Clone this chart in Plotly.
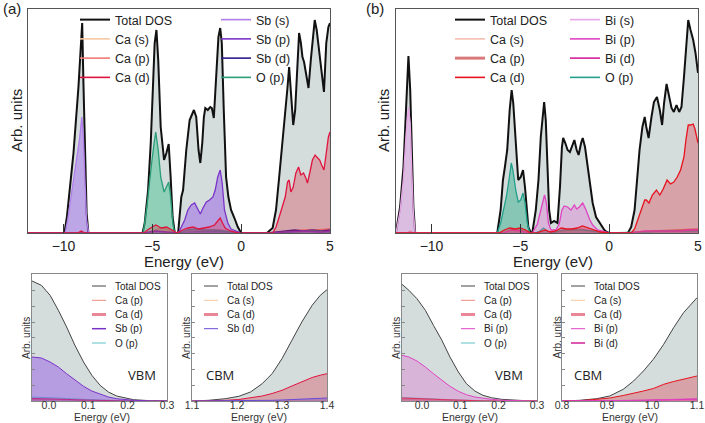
import plotly.graph_objects as go

# ---------------- Panel (a): Ca-Sb-O full DOS ----------------
E_a_tot = [-12, -9.95, -9.81, -9.44, -9.16, -8.95, -8.88, -8.80, -8.70, -8.60,
           -5.55, -5.43, -5.24, -5.09, -4.96, -4.87, -4.77, -4.67, -4.53, -4.34,
           -4.21, -4.08, -3.97, -3.86, -3.74, -3.55, -3.37, -3.27, -3.09, -2.90,
           -2.66, -2.53, -2.40, -2.30, -2.19, -2.10, -2.02, -1.88, -1.74, -1.65,
           -1.54, -1.41, -1.28, -1.18, -1.09, -0.98, -0.85, -0.72, -0.57, -0.38,
           -0.19, 0.0, 1.45, 1.77, 1.96, 2.14, 2.33, 2.48, 2.61, 2.70, 2.80,
           2.93, 3.04, 3.17, 3.26, 3.36, 3.45, 3.54, 3.67, 3.79, 3.92, 4.07,
           4.14, 4.25, 4.38, 4.53, 4.66, 4.79, 4.91, 5.0]
D_a_tot = [0, 0, 16, 80, 146, 210, 150, 80, 20, 0,
           0, 10, 43, 90, 140, 190, 203, 173, 106, 73,
           80, 89, 56, 16, 0, 0, 36, 43, 83, 113,
           123, 116, 83, 70, 90, 116, 125, 123, 126, 125,
           115, 156, 196, 205, 190, 123, 56, 36, 23, 15,
           6, 0, 0, 5, 23, 56, 90, 123, 146, 166, 140,
           108, 123, 173, 200, 190, 176, 171, 156, 145, 173, 206,
           213, 203, 183, 163, 141, 190, 206, 210]

E_a_sbs = [-12, -9.91, -9.76, -9.38, -9.10, -8.97, -8.88, -8.80, -8.70, -8.58, 5]
D_a_sbs = [0, 0, 14, 58, 94, 116, 95, 55, 13, 0, 0]

E_a_sbp = [-12, -5.5, -4.8, -4.0, -3.55, -3.37, -3.18, -3.0, -2.81, -2.62, -2.43,
           -2.30, -2.15, -1.96, -1.78, -1.59, -1.46, -1.32, -1.18, -1.07, -0.94,
           -0.75, -0.57, -0.19, 0.0, 1.6, 2.5, 3.5, 4.5, 5.0]
D_a_sbp = [0, 0, 2, 1, 0, 6, 13, 23, 28, 30, 23,
           19, 25, 31, 33, 36, 43, 56, 63, 50, 23,
           10, 4, 1, 0, 0, 1, 2, 1, 2]

E_a_sbd = [-12, -3.5, -2.5, -1.2, 0.0, 1.5, 2.0, 2.5, 3.0, 3.5, 4.0, 4.5, 5.0]
D_a_sbd = [0, 0, 1, 1, 0, 0, 1, 2, 3, 2, 3, 2, 3]

E_a_op = [-12, -5.52, -5.33, -5.15, -5.02, -4.90, -4.81, -4.67, -4.53, -4.34,
          -4.21, -4.08, -3.97, -3.84, -3.74, -3.5, -3.0, -2.6, -2.0, -1.5,
          -1.0, -0.5, 0.0, 2.0, 3.0, 4.0, 5.0]
D_a_op = [0, 0, 23, 56, 73, 90, 101, 83, 56, 41,
          46, 51, 36, 9, 0, 0, 3, 4, 3, 3,
          2, 1, 0, 0, 1, 2, 1]

E_a_cas = [-12, -5.3, -4.6, -4.0, -3.6, 1.8, 3.0, 4.0, 5.0]
D_a_cas = [0, 0, 2, 2, 0, 0, 1, 1, 1]

E_a_cap = [-12, -9.1, -9.0, -8.9, -5.4, -4.9, -4.5, -4.2, -3.8, -3.5, -2.5, -1.2, -0.3,
           1.8, 2.7, 3.5, 4.2, 5.0]
D_a_cap = [0, 0, 1, 0, 0, 3, 5, 4, 0, 0, 2, 3, 0,
           0, 2, 3, 3, 4]

E_a_cad = [-12, -9.2, -9.0, -8.8, -5.5, -5.2, -4.8, -4.5, -4.2, -3.9, -3.6, -3.3,
           -3.0, -2.7, -2.4, -2.1, -1.8, -1.5, -1.3, -1.18, -1.05, -0.9, -0.6, -0.2,
           1.77, 1.96, 2.14, 2.33, 2.48, 2.61, 2.70, 2.80, 2.93, 3.08, 3.23, 3.36,
           3.51, 3.64, 3.73, 3.86, 4.01, 4.16, 4.29, 4.42, 4.53, 4.66, 4.79, 4.91, 5.0]
D_a_cad = [0, 0, 2, 0, 0, 4, 8, 5, 6, 3, 0, 3,
           5, 6, 4, 5, 6, 8, 12, 15, 10, 5, 2, 0,
           0, 6, 16, 26, 36, 51, 53, 41, 46, 60, 66, 58,
           60, 55, 50, 60, 73, 78, 75, 73, 68, 63, 80, 96, 101]

# ---------------- Panel (b): Ca-Bi-O full DOS ----------------
E_b_tot = [-12.0, -11.98, -11.77, -11.58, -11.43, -11.30, -11.20, -11.11, -11.02, -10.92,
           -6.30, -6.11, -5.98, -5.87, -5.74, -5.60, -5.49, -5.40, -5.26, -5.12,
           -4.98, -4.85, -4.74, -4.64, -4.55, -4.41, -4.33, -4.13, -3.98, -3.85,
           -3.72, -3.66, -3.57, -3.47, -3.38, -3.28, -3.10, -2.91, -2.77, -2.66,
           -2.59, -2.47, -2.34, -2.21, -2.09, -1.96, -1.83, -1.72, -1.58, -1.49,
           -1.36, -1.21, -1.08, -0.93, -0.74, -0.45, -0.27, -0.14, 0.0,
           1.05, 1.24, 1.43, 1.56, 1.71, 1.87, 2.0, 2.09, 2.22, 2.38, 2.52, 2.69,
           2.85, 2.98, 3.09, 3.23, 3.38, 3.51, 3.64, 3.79, 3.94, 4.07, 4.21, 4.32,
           4.45, 4.58, 4.73, 4.86, 4.96, 5.0]
D_b_tot = [0, 3, 26, 66, 126, 177, 143, 76, 26, 0,
           0, 23, 53, 66, 83, 123, 143, 130, 86, 53,
           56, 63, 46, 23, 6, 0, 0, 23, 53, 96,
           126, 131, 113, 63, 23, 10, 12, 10, 46, 86,
           95, 90, 83, 81, 86, 93, 83, 78, 90, 95,
           86, 66, 50, 30, 16, 8, 3, 1, 0,
           0, 6, 23, 50, 83, 106, 116, 106, 95, 116, 131, 136,
           123, 108, 130, 149, 135, 125, 121, 128, 121, 126, 156, 183,
           213, 203, 193, 180, 164, 160]

E_b_bis = [-12.0, -11.98, -11.77, -11.58, -11.43, -11.30, -11.20, -11.11, -11.02, -10.92, 5]
D_b_bis = [0, 2, 22, 55, 100, 126, 110, 62, 20, 0, 0]

E_b_bip = [-12, -6.0, -5.5, -5.0, -4.5, -4.33, -4.04, -3.85, -3.72, -3.64, -3.53,
           -3.42, -3.28, -3.0, -2.81, -2.66, -2.53, -2.34, -2.15, -1.96, -1.83,
           -1.68, -1.49, -1.30, -1.11, -0.93, -0.64, -0.17, 0.0, 1.2, 2.0, 3.0, 4.0, 4.5, 5.0]
D_b_bip = [0, 0, 3, 2, 0, 0, 9, 23, 34, 38, 30,
           10, 3, 3, 9, 23, 27, 26, 23, 28, 24,
           26, 30, 23, 14, 8, 3, 1, 0, 0, 2, 2, 2, 3, 3]

E_b_bid = [-12, 1.2, 2.0, 3.0, 4.0, 4.5, 5.0]
D_b_bid = [0, 0, 1, 2, 2, 3, 3]

E_b_op = [-12, -6.30, -6.11, -5.93, -5.79, -5.64, -5.51, -5.42, -5.26, -5.12,
          -4.98, -4.85, -4.74, -4.61, -4.47, -4.2, -3.9, -3.7, -3.5, -3.2,
          -2.6, -2.0, -1.5, -1.0, -0.5, 0.0, 2.0, 3.0, 4.0, 5.0]
D_b_op = [0, 0, 10, 23, 36, 53, 70, 63, 43, 31,
          33, 40, 30, 10, 0, 0, 2, 5, 2, 0,
          3, 3, 3, 2, 1, 0, 1, 2, 2, 2]

E_b_cas = [-12, -5.8, -5.0, -4.5, -2.5, -1.5, -0.5, 1.5, 3.0, 4.5, 5.0]
D_b_cas = [0, 0, 2, 0, 1, 2, 0, 0, 1, 2, 2]

E_b_cap = [-12, -11.4, -11.2, -11.0, -6.0, -5.5, -5.0, -4.4, -3.0, -2.0, -1.5, -0.5,
           1.5, 2.5, 3.5, 4.5, 5.0]
D_b_cap = [0, 0, 2, 0, 0, 3, 3, 0, 1, 3, 4, 0,
           0, 2, 3, 4, 4]

E_b_cad = [-12, -6.2, -5.9, -5.6, -5.3, -5.0, -4.7, -4.4, -4.1, -3.8, -3.6, -3.3,
           -3.0, -2.7, -2.4, -2.1, -1.8, -1.5, -1.2, -0.9, -0.5, 0.0,
           1.24, 1.43, 1.62, 1.81, 2.0, 2.09, 2.24, 2.43, 2.66, 2.85, 3.04, 3.26,
           3.45, 3.64, 3.83, 4.02, 4.21, 4.32, 4.45, 4.58, 4.73, 4.83, 4.96, 5.0]
D_b_cad = [0, 0, 3, 5, 4, 5, 3, 0, 0, 2, 3, 1,
           2, 5, 4, 4, 5, 7, 5, 3, 1, 0,
           0, 4, 13, 24, 33, 33, 30, 38, 43, 38, 44, 53,
           49, 51, 56, 63, 76, 93, 108, 108, 109, 104, 91, 90]

# ---------------- Band-edge zooms ----------------
E_vbm_a = [-0.043, -0.019, 0.003, 0.024, 0.045, 0.066, 0.088, 0.109, 0.130, 0.151,
           0.172, 0.194, 0.215, 0.257, 0.300]
V_a_tot = [120, 115.7, 105.7, 90.7, 74, 55.7, 39, 25.7, 15.7, 9, 5, 3, 1.3, 0.3, 0]
V_a_sbp = [44, 43, 39, 34, 27.3, 20.7, 14.7, 10, 6.7, 4, 2.3, 1.3, 0.7, 0.1, 0]
V_a_op = [4, 3.8, 3.4, 3, 2.5, 2, 1.5, 1, 0.7, 0.4, 0.2, 0.1, 0, 0, 0]
V_a_cad = [2.5, 2.4, 2.2, 1.9, 1.6, 1.2, 0.9, 0.6, 0.4, 0.2, 0.1, 0, 0, 0, 0]
V_a_cap = [1.5, 1.4, 1.3, 1.1, 0.9, 0.7, 0.5, 0.3, 0.2, 0.1, 0, 0, 0, 0, 0]

E_cbm_a = [1.1, 1.137, 1.174, 1.204, 1.23, 1.256, 1.278, 1.3, 1.322, 1.344, 1.367, 1.385, 1.4]
C_a_tot = [0, 0.7, 2.3, 4.7, 9, 17.3, 27.3, 42.3, 60.7, 79, 95.7, 105.7, 111.3]
C_a_cad = [0, 0.2, 0.7, 1.5, 3, 5, 7.5, 10.7, 15, 19.5, 23.5, 25.8, 27.3]
C_a_sbd = [0, 0, 0.1, 0.2, 0.3, 0.5, 0.7, 1, 1.4, 1.8, 2.2, 2.6, 3]
C_a_cas = [0, 0, 0, 0.1, 0.1, 0.2, 0.3, 0.4, 0.5, 0.6, 0.7, 0.8, 0.9]

E_vbm_b = [-0.052, -0.034, -0.013, 0.009, 0.030, 0.052, 0.073, 0.095, 0.116, 0.138,
           0.159, 0.181, 0.207, 0.241, 0.284, 0.300]
V_b_tot = [116.7, 110.7, 102.3, 90.7, 75.7, 60.7, 44, 29, 17.3, 10, 5.7, 3.3, 1.7, 0.7, 0, 0]
V_b_bip = [45.7, 44, 40, 34, 27.3, 20.7, 14.7, 9.7, 6.3, 4, 2.6, 1.7, 0.8, 0.2, 0, 0]
V_b_op = [3.5, 3.3, 3, 2.6, 2.2, 1.7, 1.3, 0.9, 0.6, 0.4, 0.2, 0.1, 0, 0, 0, 0]
V_b_cad = [3, 2.9, 2.6, 2.2, 1.8, 1.4, 1, 0.7, 0.4, 0.2, 0.1, 0, 0, 0, 0, 0]
V_b_cap = [1.5, 1.4, 1.3, 1.1, 0.9, 0.7, 0.5, 0.3, 0.2, 0.1, 0, 0, 0, 0, 0, 0]

E_cbm_b = [0.8, 0.839, 0.877, 0.906, 0.936, 0.959, 0.981, 1.003, 1.026, 1.048, 1.07, 1.1]
C_b_tot = [0, 0.7, 2.3, 5, 11.7, 20, 30, 41.7, 56.7, 73.3, 88.3, 103.3]
C_b_cad = [0, 0.3, 1.7, 3, 5.5, 7.5, 10, 12.5, 16.7, 19.5, 22, 25]
C_b_bip = [0, 0, 0.1, 0.2, 0.4, 0.6, 0.8, 1, 1.3, 1.6, 1.9, 2.2]
C_b_bid = [0, 0, 0.1, 0.2, 0.3, 0.5, 0.7, 0.9, 1.1, 1.3, 1.5, 1.8]
C_b_cas = [0, 0, 0, 0, 0.1, 0.1, 0.2, 0.2, 0.3, 0.3, 0.4, 0.4]

# legend labels for the band-edge panels
LEG_VBM_A = ["Total DOS", "Ca (p)", "Ca (d)", "Sb (p)", "O (p)"]
LEG_CBM_A = ["Total DOS", "Ca (s)", "Ca (d)", "Sb (d)"]
LEG_VBM_B = ["Total DOS", "Ca (p)", "Ca (d)", "Bi (p)", "O (p)"]
LEG_CBM_B = ["Total DOS", "Ca (s)", "Ca (d)", "Bi (p)", "Bi (d)"]

# ---------------- styles ----------------
FONT = "Liberation Sans, Arial, sans-serif"
TOT_LINE = "#111111"
TOT_FILL = "rgba(47,79,79,0.2)"
COL = {
    "Ca (s)": ("#f6c8a2", "rgba(246,200,162,0.35)"),
    "Ca (p)": ("#ef7b72", "rgba(239,123,114,0.3)"),
    "Ca (d)a": ("#e0133f", "rgba(220,40,60,0.30)"),
    "Sb (s)": ("#b07ee8", "rgba(160,100,240,0.45)"),
    "Sb (p)": ("#7a33c8", "rgba(140,70,230,0.42)"),
    "Sb (d)": ("#2c1b8c", "rgba(44,27,140,0.3)"),
    "O (p)a": ("#2a9d78", "rgba(60,190,140,0.45)"),
    "Ca (s)b": ("#f4bcae", "rgba(244,188,174,0.35)"),
    "Ca (p)b": ("#d97a7a", "rgba(217,122,122,0.3)"),
    "Ca (d)b": ("#e8121e", "rgba(220,40,60,0.32)"),
    "Bi (s)": ("#e7a6e6", "rgba(225,150,230,0.45)"),
    "Bi (p)": ("#e044c2", "rgba(220,100,210,0.33)"),
    "Bi (d)": ("#d2209a", "rgba(210,32,154,0.3)"),
    "O (p)b": ("#22a08c", "rgba(40,170,130,0.45)"),
}
SMALL = {
    "Total DOS": ("#444444", 1),
    "Ca (s)": ("#f6c8a2", 1),
    "Ca (p)": ("#ef8a80", 1),
    "Ca (d)": ("rgba(225,95,115,0.75)", 3),
    "Sb (p)": ("#7a33c8", 1.5),
    "Sb (d)": ("#6a4ad8", 1),
    "O (p)": ("#5fc0c8", 1),
    "Bi (p)": ("#e044c2", 1),
    "Bi (d)": ("#d2209a", 1.5),
}

fig = go.Figure()


def curve(x, y, line, fill, xa, ya, width=1.3):
    fig.add_trace(go.Scatter(x=x, y=y, mode="lines", line=dict(color=line, width=width),
                             fill="tozeroy", fillcolor=fill, xaxis=xa, yaxis=ya,
                             showlegend=False, hoverinfo="skip"))


def entry(name, color, legend, xa, ya, width=1.6):
    fig.add_trace(go.Scatter(x=[None], y=[None], mode="lines", name=name,
                             line=dict(color=color, width=width), legend=legend,
                             xaxis=xa, yaxis=ya, showlegend=True, hoverinfo="skip"))


# Panel (a)
curve(E_a_tot, D_a_tot, TOT_LINE, TOT_FILL, "x", "y", 2)
curve(E_a_cas, D_a_cas, *COL["Ca (s)"], "x", "y")
curve(E_a_cap, D_a_cap, *COL["Ca (p)"], "x", "y")
curve(E_a_sbd, D_a_sbd, *COL["Sb (d)"], "x", "y")
curve(E_a_sbs, D_a_sbs, *COL["Sb (s)"], "x", "y")
curve(E_a_op, D_a_op, *COL["O (p)a"], "x", "y")
curve(E_a_sbp, D_a_sbp, *COL["Sb (p)"], "x", "y")
curve(E_a_cad, D_a_cad, *COL["Ca (d)a"], "x", "y")

# Panel (b)
curve(E_b_tot, D_b_tot, TOT_LINE, TOT_FILL, "x2", "y2", 2)
curve(E_b_cas, D_b_cas, *COL["Ca (s)b"], "x2", "y2")
curve(E_b_cap, D_b_cap, *COL["Ca (p)b"], "x2", "y2")
curve(E_b_bid, D_b_bid, *COL["Bi (d)"], "x2", "y2")
curve(E_b_bis, D_b_bis, *COL["Bi (s)"], "x2", "y2")
curve(E_b_op, D_b_op, *COL["O (p)b"], "x2", "y2")
curve(E_b_bip, D_b_bip, *COL["Bi (p)"], "x2", "y2")
curve(E_b_cad, D_b_cad, *COL["Ca (d)b"], "x2", "y2")

# VBM (a)
curve(E_vbm_a, V_a_tot, "#444444", TOT_FILL, "x3", "y3", 1)
curve(E_vbm_a, V_a_cap, *COL["Ca (p)"], "x3", "y3", 1)
curve(E_vbm_a, V_a_op, "#5fc0c8", "rgba(95,192,200,0.3)", "x3", "y3", 1)
curve(E_vbm_a, V_a_cad, *COL["Ca (d)a"], "x3", "y3", 1)
curve(E_vbm_a, V_a_sbp, *COL["Sb (p)"], "x3", "y3", 1)
# CBM (a)
curve(E_cbm_a, C_a_tot, "#444444", TOT_FILL, "x4", "y4", 1)
curve(E_cbm_a, C_a_cas, *COL["Ca (s)"], "x4", "y4", 1)
curve(E_cbm_a, C_a_cad, *COL["Ca (d)a"], "x4", "y4", 1)
curve(E_cbm_a, C_a_sbd, "#6a4ad8", "rgba(106,74,216,0.4)", "x4", "y4", 1)
# VBM (b)
curve(E_vbm_b, V_b_tot, "#444444", TOT_FILL, "x5", "y5", 1)
curve(E_vbm_b, V_b_cap, *COL["Ca (p)b"], "x5", "y5", 1)
curve(E_vbm_b, V_b_op, "#5fc0c8", "rgba(95,192,200,0.3)", "x5", "y5", 1)
curve(E_vbm_b, V_b_cad, *COL["Ca (d)b"], "x5", "y5", 1)
curve(E_vbm_b, V_b_bip, *COL["Bi (p)"], "x5", "y5", 1)
# CBM (b)
curve(E_cbm_b, C_b_tot, "#444444", TOT_FILL, "x6", "y6", 1)
curve(E_cbm_b, C_b_cas, *COL["Ca (s)b"], "x6", "y6", 1)
curve(E_cbm_b, C_b_cad, *COL["Ca (d)b"], "x6", "y6", 1)
curve(E_cbm_b, C_b_bid, *COL["Bi (d)"], "x6", "y6", 1)
curve(E_cbm_b, C_b_bip, *COL["Bi (p)"], "x6", "y6", 1)

# Legend entries (top panels)
entry("Total DOS", TOT_LINE, "legend", "x", "y", 2)
entry("Ca (s)", COL["Ca (s)"][0], "legend", "x", "y")
entry("Ca (p)", COL["Ca (p)"][0], "legend", "x", "y")
entry("Ca (d)", COL["Ca (d)a"][0], "legend", "x", "y")
entry("Sb (s)", COL["Sb (s)"][0], "legend2", "x", "y")
entry("Sb (p)", COL["Sb (p)"][0], "legend2", "x", "y")
entry("Sb (d)", COL["Sb (d)"][0], "legend2", "x", "y")
entry("O (p)", COL["O (p)a"][0], "legend2", "x", "y")

entry("Total DOS", TOT_LINE, "legend3", "x2", "y2", 2)
entry("Ca (s)", COL["Ca (s)b"][0], "legend3", "x2", "y2")
entry("Ca (p)", COL["Ca (p)b"][0], "legend3", "x2", "y2", 3)
entry("Ca (d)", COL["Ca (d)b"][0], "legend3", "x2", "y2")
entry("Bi (s)", COL["Bi (s)"][0], "legend4", "x2", "y2")
entry("Bi (p)", COL["Bi (p)"][0], "legend4", "x2", "y2")
entry("Bi (d)", COL["Bi (d)"][0], "legend4", "x2", "y2")
entry("O (p)", COL["O (p)b"][0], "legend4", "x2", "y2")

W, H = 705, 423


def fx(p):
    return p / W


def fy(p):
    return 1 - p / H


def top_x(dom, anchor):
    return dict(domain=dom, range=[-12, 5], tickvals=[-10, -5, 0, 5], ticks="inside",
                ticklen=9, tickcolor="#333", tickfont=dict(size=14, color="#222"),
                showline=True, linecolor="#555", linewidth=1, mirror=True,
                showgrid=False, zeroline=False, automargin=False, anchor=anchor)


def top_y(dom, anchor):
    return dict(domain=dom, range=[0, 224], showticklabels=False, ticks="",
                showline=True, linecolor="#555", linewidth=1, mirror=True,
                showgrid=False, zeroline=False, anchor=anchor, automargin=False)


def bot_x(dom, rng, vals, anchor):
    return dict(domain=dom, range=rng, tickvals=vals, tickformat=".1f", ticks="",
                tickfont=dict(size=10.5, color="#333"), anchor=anchor, automargin=False,
                ticklabelstandoff=-6,
                showline=True, linecolor="#888", linewidth=1, mirror=True,
                showgrid=False, zeroline=False)


def bot_y(dom, anchor):
    return dict(domain=dom, range=[0, 127], showticklabels=False, ticks="inside",
                ticklen=3, tickcolor="#888", dtick=15.8, anchor=anchor, automargin=False,
                showline=True, linecolor="#888", linewidth=1, mirror=True,
                showgrid=False, zeroline=False)


ydom_top = [fy(233), fy(9)]
ydom_bot = [fy(401), fy(274)]


def leg(x, y, size):
    return dict(x=fx(x), y=fy(y), xanchor="left", yanchor="top",
                bgcolor="rgba(0,0,0,0)", borderwidth=0,
                font=dict(family=FONT, size=size, color="#222"))


def text(t, x, y, size, angle=0, family=FONT, color="#222"):
    return dict(text=t, x=fx(x), y=fy(y), xref="paper", yref="paper", xanchor="center",
                yanchor="middle", showarrow=False, textangle=angle,
                font=dict(family=family, size=size, color=color))


def tag(t, x, y, ax):
    return dict(text=t, x=x, y=y, xref=f"{ax} domain", yref=f"{ax.replace('x', 'y')} domain",
                xanchor="center", yanchor="middle", showarrow=False,
                font=dict(family="Open Sans", size=13, color="#222"))


annotations = [
    dict(text="(a)", x=fx(1), y=fy(8), xref="paper", yref="paper", xanchor="left",
         yanchor="middle", showarrow=False, font=dict(size=15, color="#222")),
    dict(text="(b)", x=fx(364), y=fy(8), xref="paper", yref="paper", xanchor="left",
         yanchor="middle", showarrow=False, font=dict(size=15, color="#222")),
    # axis titles
    text("Energy (eV)", 184, 261, 15),
    text("Energy (eV)", 553, 261, 15),
    text("Arb. units", 16, 121, 15, -90),
    text("Arb. units", 383, 121, 15, -90),
    text("Energy (eV)", 102.5, 417, 10.5, 0, FONT, "#333"),
    text("Energy (eV)", 258.5, 417, 10.5, 0, FONT, "#333"),
    text("Energy (eV)", 469.5, 417, 10.5, 0, FONT, "#333"),
    text("Energy (eV)", 630, 417, 10.5, 0, FONT, "#333"),
    text("Arb. units", 26, 338, 10, -90, FONT, "#333"),
    text("Arb. units", 186, 338, 10, -90, FONT, "#333"),
    text("Arb. units", 396, 338, 10, -90, FONT, "#333"),
    text("Arb. units", 556.5, 338, 10, -90, FONT, "#333"),
    # band-edge tags
    tag("VBM", 0.815, 0.205, "x3"),
    tag("CBM", 0.211, 0.205, "x4"),
    tag("VBM", 0.789, 0.205, "x5"),
    tag("CBM", 0.196, 0.205, "x6"),
]
shapes = []

# compact legends for the four band-edge panels
ROWS = [286, 300.3, 314.5, 328.7, 343]
for labels, x0 in [(LEG_VBM_A, 92), (LEG_CBM_A, 204), (LEG_VBM_B, 461), (LEG_CBM_B, 571)]:
    for lab, yy in zip(labels, ROWS):
        c, w = SMALL[lab]
        shapes.append(dict(type="line", xref="paper", yref="paper",
                           x0=fx(x0), x1=fx(x0 + 14), y0=fy(yy), y1=fy(yy),
                           line=dict(color=c, width=w)))
        annotations.append(dict(text=lab, x=fx(x0 + 21), y=fy(yy), xref="paper", yref="paper",
                                xanchor="left", yanchor="middle", showarrow=False,
                                font=dict(size=10, color="#222")))

fig.update_layout(
    width=W, height=H, margin=dict(l=0, r=0, t=0, b=0, autoexpand=False),
    paper_bgcolor="white", plot_bgcolor="white",
    font=dict(family=FONT, color="#222"),
    xaxis=top_x([fx(28), fx(330)], "y"),
    yaxis=top_y(ydom_top, "x"),
    xaxis2=top_x([fx(396), fx(698)], "y2"),
    yaxis2=top_y(ydom_top, "x2"),
    xaxis3=bot_x([fx(32), fx(167)], [-0.043, 0.3], [0.0, 0.1, 0.2, 0.3], "y3"),
    yaxis3=bot_y(ydom_bot, "x3"),
    xaxis4=bot_x([fx(192), fx(327)], [1.1, 1.4], [1.1, 1.2, 1.3, 1.4], "y4"),
    yaxis4=bot_y(ydom_bot, "x4"),
    xaxis5=bot_x([fx(402), fx(537)], [-0.052, 0.3], [0.0, 0.1, 0.2, 0.3], "y5"),
    yaxis5=bot_y(ydom_bot, "x5"),
    xaxis6=bot_x([fx(562), fx(697)], [0.8, 1.1], [0.8, 0.9, 1.0, 1.1], "y6"),
    yaxis6=bot_y(ydom_bot, "x6"),
    legend=leg(75, 5, 12.5),
    legend2=leg(216, 5, 12.5),
    legend3=leg(450, 5, 12.5),
    legend4=leg(565, 5, 12.5),
    annotations=annotations,
    shapes=shapes,
)

# the page's default body margin would shift the 705x423 figure; remove it
fig.write_html("out.html", config={"displayModeBar": False},
               post_script="document.body.style.margin='0';")
